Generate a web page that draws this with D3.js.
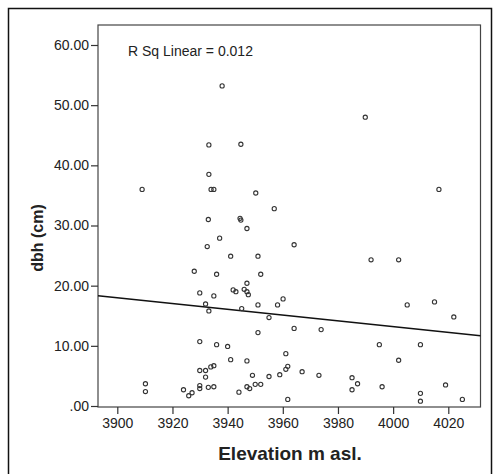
<!DOCTYPE html>
<html>
<head>
<meta charset="utf-8">
<script src="https://cdn.jsdelivr.net/npm/d3@7"></script>
<style>
    body { margin: 0; background: #fff; }
    svg text { font-family: "Liberation Sans", Arial, sans-serif; fill: #222; }
</style>
</head>
<body>
<script>
// elevation (m asl.) and dbh (cm) of each tree
var elevation = [3938.0, 3989.9, 3933.2, 3944.8, 3933.2, 3909.0, 3934.0, 3935.0, 3950.2, 4016.6,
    3956.9, 3933.0, 3944.5, 3944.8, 3947.0, 3937.1, 3964.1, 3932.6, 3941.1, 3951.0,
    3992.0, 4002.0, 3927.9, 3936.0, 3952.0, 3947.0, 3942.0, 3943.0, 3946.0, 3947.0,
    3947.5, 3929.9, 3935.0, 3960.1, 4015.0, 3932.0, 3958.1, 3951.0, 4005.1, 3945.1,
    3933.2, 4022.0, 3955.0, 3964.1, 3973.9, 3951.0, 3929.9, 3936.0, 3995.0, 4009.9,
    3940.0, 3961.1, 3941.1, 4002.0, 3947.0, 3935.0, 3933.9, 3961.8, 3929.9, 3932.0,
    3961.1, 3967.0, 3949.0, 3955.0, 3958.9, 3973.1, 3932.0, 3985.1, 3910.2, 3910.2,
    3929.9, 3929.9, 3933.0, 3935.0, 3947.0, 3948.0, 3950.0, 3952.0, 3987.1, 3985.1,
    3996.0, 4019.0, 3924.0, 3925.9, 3927.1, 3944.1, 4009.9, 4009.9, 3961.8, 4025.1];
var dbh = [53.2, 48.0, 43.4, 43.5, 38.5, 36.0, 36.0, 36.0, 35.4, 36.0,
    32.8, 31.0, 31.2, 30.9, 29.5, 27.9, 26.8, 26.5, 24.9, 24.9,
    24.3, 24.3, 22.4, 21.9, 21.9, 20.4, 19.3, 19.0, 19.4, 19.0,
    18.5, 18.8, 18.3, 17.8, 17.3, 16.95, 16.8, 16.8, 16.8, 16.2,
    15.8, 14.8, 14.7, 12.9, 12.7, 12.2, 10.7, 10.2, 10.2, 10.2,
    9.9, 8.7, 7.7, 7.6, 7.5, 6.7, 6.5, 6.6, 5.9, 5.9,
    6.1, 5.7, 5.1, 4.9, 5.2, 5.1, 4.8, 4.7, 3.7, 2.4,
    3.4, 2.9, 3.1, 3.2, 3.2, 2.9, 3.6, 3.6, 3.7, 2.7,
    3.2, 3.5, 2.7, 1.7, 2.2, 2.3, 2.1, 0.8, 1.1, 1.1];

var xTicks = [3900, 3920, 3940, 3960, 3980, 4000, 4020];
var yTicks = [0, 10, 20, 30, 40, 50, 60];
var yTickLabels = [".00", "10.00", "20.00", "30.00", "40.00", "50.00", "60.00"];

// linear fit line as drawn in the chart
var fitIntercept = 204.8,
    fitSlope = -0.0479,
    fitLabel = "R Sq Linear = 0.012";

var W = 495, H = 474;
var plot = { left: 98, top: 25, right: 480.5, bottom: 407 };

var svg = d3.select("body").append("svg")
    .attr("width", W)
    .attr("height", H);

// outer frame
svg.append("rect")
    .attr("x", 8.5).attr("y", 8.5)
    .attr("width", 483).attr("height", 480)
    .attr("fill", "none")
    .attr("stroke", "#111")
    .attr("stroke-width", 1.5);

var x = d3.scaleLinear().domain([3900, 4020]).range([117.3, 448.3]);
var y = d3.scaleLinear().domain([0, 60]).range([406, 45]);

// plot box
svg.append("rect")
    .attr("x", plot.left).attr("y", plot.top)
    .attr("width", plot.right - plot.left)
    .attr("height", plot.bottom - plot.top)
    .attr("fill", "none")
    .attr("stroke", "#444")
    .attr("stroke-width", 1.2);

// y axis
var yAxis = d3.axisLeft(y)
    .tickValues(yTicks)
    .tickSize(7)
    .tickPadding(2)
    .tickFormat(function(d, i) { return yTickLabels[i]; });
var gy = svg.append("g")
    .attr("transform", "translate(" + plot.left + ",0)")
    .call(yAxis);
gy.select(".domain").remove();
gy.selectAll("line").attr("stroke", "#333").attr("stroke-width", 1.2);
gy.selectAll("text").style("font-size", "14px").attr("fill", "#333");

// x axis
var xAxis = d3.axisBottom(x)
    .tickValues(xTicks)
    .tickSize(7)
    .tickPadding(4)
    .tickFormat(d3.format("d"));
var gx = svg.append("g")
    .attr("transform", "translate(0," + plot.bottom + ")")
    .call(xAxis);
gx.select(".domain").remove();
gx.selectAll("line").attr("stroke", "#333").attr("stroke-width", 1.2);
gx.selectAll("text").style("font-size", "14px").attr("fill", "#333");

// axis titles
svg.append("text")
    .attr("x", 290).attr("y", 460)
    .attr("text-anchor", "middle")
    .style("font-size", "19px")
    .style("font-weight", "bold")
    .text("Elevation m asl.");

svg.append("text")
    .attr("transform", "translate(43,238) rotate(-90)")
    .attr("text-anchor", "middle")
    .style("font-size", "16px")
    .style("font-weight", "bold")
    .text("dbh (cm)");

// fit line
var x0 = x.invert(plot.left), x1 = x.invert(plot.right);
svg.append("line")
    .attr("x1", x(x0)).attr("y1", y(fitIntercept + fitSlope * x0))
    .attr("x2", x(x1)).attr("y2", y(fitIntercept + fitSlope * x1))
    .attr("stroke", "#111")
    .attr("stroke-width", 1.4);

svg.append("text")
    .attr("x", 128).attr("y", 56)
    .style("font-size", "14px")
    .text(fitLabel);

// points
svg.append("g").selectAll("circle")
    .data(elevation)
    .join("circle")
    .attr("cx", function(d) { return x(d); })
    .attr("cy", function(d, i) { return y(dbh[i]); })
    .attr("r", 2.1)
    .attr("fill", "none")
    .attr("stroke", "#333")
    .attr("stroke-width", 1.1);
</script>
</body>
</html>
